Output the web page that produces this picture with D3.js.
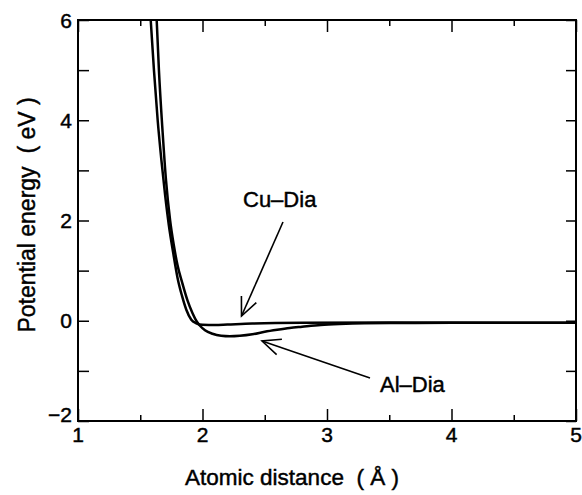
<!DOCTYPE html>
<html><head><meta charset="utf-8">
<script src="https://cdn.jsdelivr.net/npm/d3@7/dist/d3.min.js"></script>
<style>
html,body{margin:0;padding:0;background:#fff;}
text{font-family:"Liberation Sans",Arial,Helvetica,sans-serif;fill:#000;stroke:#000;stroke-width:0.45px;}
</style></head>
<body>
<svg id="c" width="582" height="495"></svg>
<script>
const xTicks = [1, 2, 3, 4, 5];
const yTicks = [-2, 0, 2, 4, 6];
const seriesNames = ["Cu\u2013Dia", "Al\u2013Dia"];
const cuX = [1.584,1.61,1.64,1.67,1.70,1.73,1.765,1.80,1.835,1.87,1.91,1.95,2.0,2.1,2.2,2.4,2.8,3.5,5.0];
const cuE = [6.0,5.0,4.0,3.2,2.5,1.9,1.35,0.85,0.5,0.22,0.02,-0.05,-0.08,-0.085,-0.075,-0.055,-0.04,-0.035,-0.04];
const alX = [1.632,1.65,1.68,1.707,1.74,1.77,1.80,1.838,1.88,1.92,1.955,1.98,2.02,2.08,2.15,2.22,2.3,2.4,2.5,2.6,2.7,2.8,2.95,3.1,3.3,3.6,4.0,5.0];
const alE = [6.0,5.0,3.75,2.8,2.0,1.5,1.1,0.75,0.4,0.15,-0.02,-0.1,-0.19,-0.26,-0.3,-0.31,-0.3,-0.27,-0.22,-0.18,-0.145,-0.12,-0.085,-0.065,-0.05,-0.045,-0.04,-0.04];

const svg = d3.select("#c");
const L = 78, R = 576, T = 20, B = 421;
const x = d3.scaleLinear().domain([1,5]).range([L,R]);
const y = d3.scaleLinear().domain([-2,6]).range([B,T]);

svg.append("clipPath").attr("id","clip").append("rect")
  .attr("x",L).attr("y",T).attr("width",R-L).attr("height",B-T);

const gB = svg.append("g").attr("transform",`translate(0,${B})`)
  .call(d3.axisTop(x).tickValues(d3.range(1,5.01,0.5)).tickSize(0).tickFormat(""));
const gT = svg.append("g").attr("transform",`translate(0,${T})`)
  .call(d3.axisBottom(x).tickValues(d3.range(1,5.01,0.5)).tickSize(0).tickFormat(""));
const gL = svg.append("g").attr("transform",`translate(${L},0)`)
  .call(d3.axisRight(y).tickValues(d3.range(-2,6.01,1)).tickSize(11).tickFormat(""));
const gR = svg.append("g").attr("transform",`translate(${R},0)`)
  .call(d3.axisLeft(y).tickValues(d3.range(-2,6.01,1)).tickSize(10).tickFormat(""));
[gB,gT].forEach((g,i)=>{
  g.selectAll(".tick line").attr("y2", d => (Number.isInteger(d)?12:6)*(i===0?-1:1));
});
[gB,gT,gL,gR].forEach(g=>{
  g.select(".domain").remove();
  g.selectAll(".tick line").attr("stroke","#000").attr("stroke-width",1.5);
});

svg.append("rect").attr("x",L).attr("y",T).attr("width",R-L).attr("height",B-T)
  .attr("fill","none").attr("stroke","#000").attr("stroke-width",2);

svg.append("g").selectAll("text").data(xTicks).join("text")
  .attr("x",d=>x(d)).attr("y",442).attr("text-anchor","middle")
  .attr("font-size",21).text(d=>d);
svg.append("g").selectAll("text").data(yTicks).join("text")
  .attr("x",72).attr("y",d=>y(d)+ (d===-2?1:7.5)).attr("text-anchor","end")
  .attr("font-size",21).text(d=>d<0?"\u2212"+Math.abs(d):d);

svg.append("text").attr("x",292).attr("y",485).attr("text-anchor","middle")
  .attr("font-size",22.5).style("white-space","pre")
  .text("Atomic distance  ( \u00c5 )");
svg.append("text").attr("transform","translate(35,215) rotate(-90)").attr("text-anchor","middle")
  .attr("font-size",23).style("white-space","pre")
  .text("Potential energy  ( eV )");

const line = d3.line().x(d=>x(d[0])).y(d=>y(d[1])).curve(d3.curveMonotoneX);
const data = [d3.zip(cuX,cuE), d3.zip(alX,alE)];
svg.append("g").attr("clip-path","url(#clip)").selectAll("path").data(data).join("path")
  .attr("d",line).attr("fill","none").attr("stroke","#000").attr("stroke-width",2.5)
  .attr("stroke-linejoin","round");

function arrow(x1,y1,x2,y2){
  const g = svg.append("g").attr("stroke","#000").attr("stroke-width",1.6).attr("fill","none");
  g.append("line").attr("x1",x1).attr("y1",y1).attr("x2",x2).attr("y2",y2);
  const a = Math.atan2(y1-y2,x1-x2), h = 20, s = 0.42;
  g.append("path").attr("d",`M${x2+h*Math.cos(a+s)},${y2+h*Math.sin(a+s)}L${x2},${y2}L${x2+h*Math.cos(a-s)},${y2+h*Math.sin(a-s)}`);
}
arrow(283,222,241.5,316);
arrow(370,378,262,341);
svg.append("text").attr("x",243).attr("y",207).attr("font-size",22).text(seriesNames[0]);
svg.append("text").attr("x",380).attr("y",392).attr("font-size",22).text(seriesNames[1]);
</script>
</body></html>
